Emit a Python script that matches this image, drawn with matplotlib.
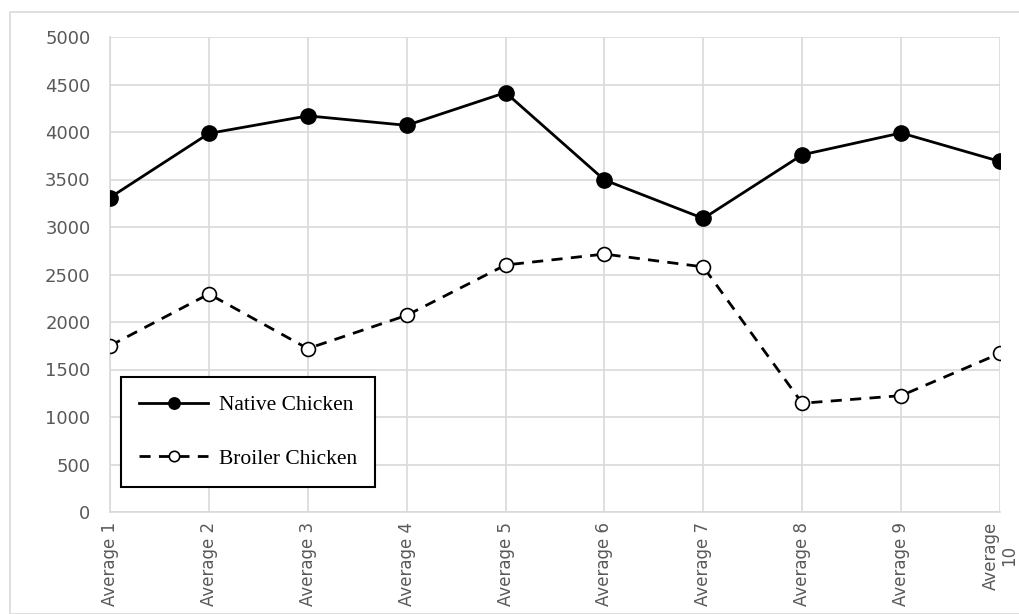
import matplotlib.pyplot as plt
from matplotlib.patches import Rectangle

categories = ["Average 1", "Average 2", "Average 3", "Average 4", "Average 5",
              "Average 6", "Average 7", "Average 8", "Average 9", "Average\n10"]
native = [3310, 3985, 4170, 4070, 4415, 3495, 3090, 3760, 3990, 3690]
broiler = [1750, 2295, 1720, 2070, 2600, 2715, 2580, 1145, 1225, 1670]
yticks = [0, 500, 1000, 1500, 2000, 2500, 3000, 3500, 4000, 4500, 5000]

W, H = 1019, 614
fig = plt.figure(figsize=(W / 100, H / 100), dpi=100)
ax = fig.add_axes([110 / W, (H - 512) / H, 890 / W, 475 / H])

# outer chart frame
fig.patches.append(Rectangle((10 / W, 0), 1.2, (H - 12) / H, transform=fig.transFigure,
                             fill=False, edgecolor="#d9d9d9", linewidth=1.2))

x = list(range(len(categories)))
ax.plot(x, native, "-", color="black", linewidth=2, marker="o", markersize=11,
        markerfacecolor="black", markeredgecolor="black", label="Native Chicken", zorder=3)
ax.plot(x, broiler, "--", color="black", linewidth=2, dashes=(4, 3), marker="o", markersize=10,
        markerfacecolor="white", markeredgecolor="black", markeredgewidth=1.2,
        label="Broiler Chicken", zorder=3)

ax.set_xlim(0, len(categories) - 1)
ax.set_ylim(0, 5000)
ax.set_yticks(yticks)
ax.set_xticks(x)
ax.set_xticklabels(categories, rotation=90, ha="center", va="top", linespacing=0.95)
ax.grid(True, color="#d9d9d9", linewidth=1.2)
ax.set_axisbelow(True)
for s in ["top", "right"]:
    ax.spines[s].set_visible(False)
for s in ["left", "bottom"]:
    ax.spines[s].set_color("#d9d9d9")
    ax.spines[s].set_linewidth(1.2)
ax.tick_params(length=0, labelcolor="#595959")
ax.tick_params(axis="y", labelsize=13, pad=14)
ax.tick_params(axis="x", labelsize=12, pad=7)
for t in ax.get_xticklabels() + ax.get_yticklabels():
    t.set_family("DejaVu Sans")

leg = ax.legend(loc="lower left", bbox_to_anchor=(0.0124, 0.053), fancybox=False,
                edgecolor="black", framealpha=1, handlelength=3.2, labelspacing=1.55,
                borderpad=0.85, handletextpad=0.5, borderaxespad=0, markerscale=0.75,
                prop={"family": "Liberation Serif", "size": 15.5})
leg.get_frame().set_linewidth(1.5)

fig.savefig("out.png", dpi=100)
